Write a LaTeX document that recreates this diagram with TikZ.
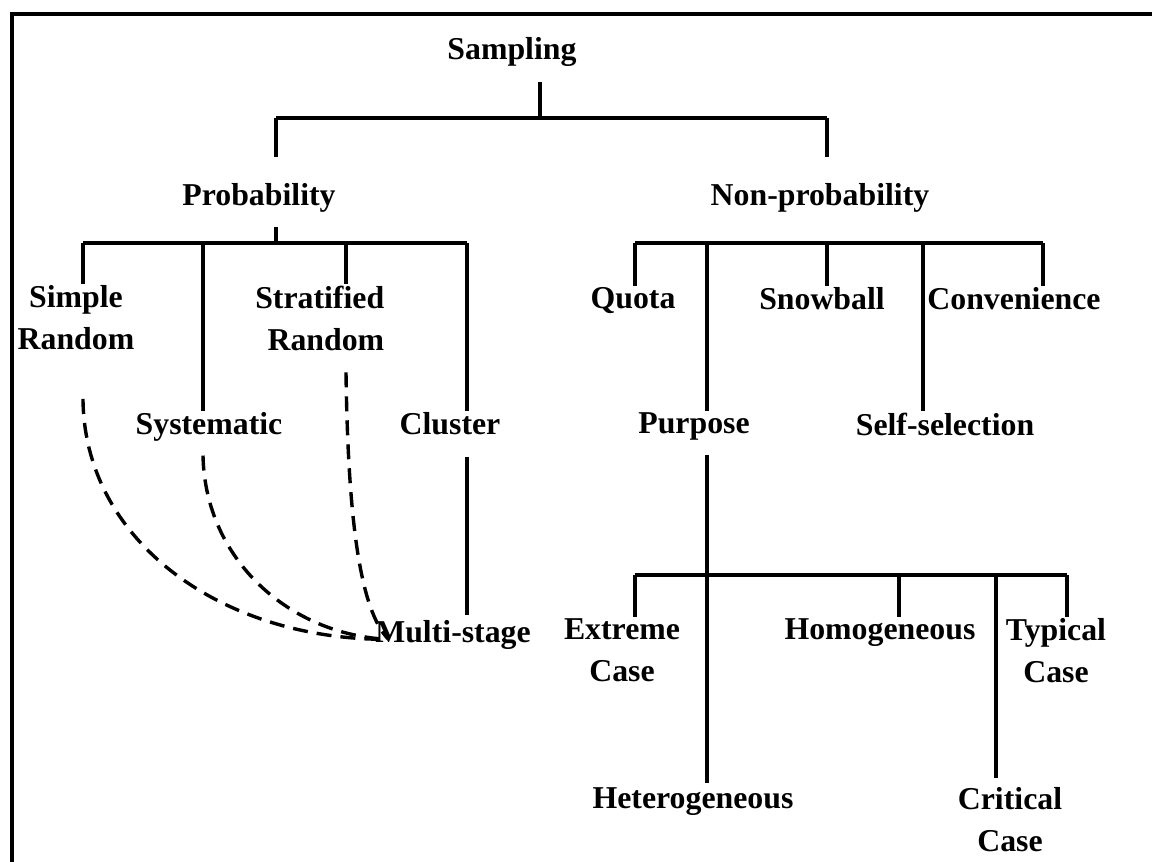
\documentclass[tikz,border=0pt]{standalone}
\usepackage{fontspec}
\setmainfont{Liberation Serif}
\usetikzlibrary{calc}
\begin{document}
\begin{tikzpicture}[x=1pt,y=-1pt,line width=3.6pt,
  lbl/.style={font=\fontsize{31.8}{42}\selectfont\bfseries,inner sep=0pt,align=center,anchor=north},
  dline/.style={line width=3.4pt,dash pattern=on 15pt off 9pt}]
\useasboundingbox (0,0) rectangle (1152,862);
% frame
\draw (1152,14) -- (12,14) -- (12,862);
% nodes
\node[lbl] (samp) at (512,36) {Sampling};
\node[lbl] (prob) at (259,182) {Probability};
\node[lbl] (nonp) at (820,182) {Non-probability};
\node[lbl] (simple) at (76,284) {Simple\\Random};
\node[lbl,align=right,anchor=north east] (strat) at (386,284) {Stratified\\Random};
\node[lbl] (syst) at (209,411) {Systematic};
\node[lbl] (clus) at (450,411) {Cluster};
\node[lbl] (multi) at (453,619) {Multi-stage};
\node[lbl] (quota) at (633,286) {Quota};
\node[lbl] (snow) at (822,286) {Snowball};
\node[lbl] (conv) at (1014,286) {Convenience};
\node[lbl] (purp) at (694,411) {Purpose};
\node[lbl] (self) at (945,411) {Self-selection};
\node[lbl] (ext) at (622,617) {Extreme\\Case};
\node[lbl] (homo) at (880,617) {Homogeneous};
\node[lbl] (typ) at (1056,617) {Typical\\Case};
\node[lbl] (het) at (693,786) {Heterogeneous};
\node[lbl] (crit) at (1010,786) {Critical\\Case};
% junction coordinates
\coordinate (j0) at (540,118);
\coordinate (jL) at (276,118);
\coordinate (jR) at (827,118);
\coordinate (p0) at (276,243);
\coordinate (p1) at (83,243);
\coordinate (p2) at (203,243);
\coordinate (p3) at (346,243);
\coordinate (p4) at (467,243);
\coordinate (q1) at (635,243);
\coordinate (q2) at (707,243);
\coordinate (q3) at (827,243);
\coordinate (q4) at (923,243);
\coordinate (q5) at (1043,243);
\coordinate (r1) at (635,575);
\coordinate (r2) at (899,575);
\coordinate (r3) at (996,575);
\coordinate (r4) at (1067,575);
% top level
\draw ($(samp.south -| j0)+(0,13)$) -- (j0);
\draw (jL) -- (jR);
\draw (jL) -- ($(jL |- prob.north)+(0,-25)$);
\draw (jR) -- ($(jR |- nonp.north)+(0,-25)$);
% probability branch
\draw ($(prob.south -| p0)+(0,12)$) -- (p0);
\draw (p1) -- (p4);
\draw (p1) -- (p1 |- simple.north);
\draw (p2) -- (p2 |- syst.north);
\draw (p3) -- (p3 |- strat.north);
\draw (p4) -- (p4 |- clus.north);
\draw ($(clus.south -| p4)+(0,20)$) -- ($(p4 |- multi.north)+(0,-4)$);
% non-probability branch
\draw (q1) -- (q5);
\draw (q1) -- (q1 |- quota.north);
\draw (q2) -- (q2 |- purp.north);
\draw (q3) -- (q3 |- snow.north);
\draw (q4) -- (q4 |- self.north);
\draw (q5) -- (q5 |- conv.north);
% purposive branch
\draw ($(purp.south -| q2)+(0,13)$) -- ($(q2 |- het.north)+(0,-3)$);
\draw (r1) -- (r4);
\draw (r1) -- (r1 |- ext.north);
\draw (r2) -- (r2 |- homo.north);
\draw (r3) -- ($(r3 |- crit.north)+(0,-8)$);
\draw (r4) -- (r4 |- typ.north);
% dashed links to multi-stage
\coordinate (mend) at ($(multi.west)+(15,4)$);
\draw[dline] ($(simple.south -| p1)+(0,47)$) .. controls (84,540) and (220,640) .. (mend);
\draw[dline] ($(syst.south -| p2)+(0,12)$) .. controls (205,560) and (290,635) .. (mend);
\draw[dline] ($(strat.south -| p3)+(0,20)$) .. controls (348,520) and (360,610) .. (mend);
\end{tikzpicture}
\end{document}
